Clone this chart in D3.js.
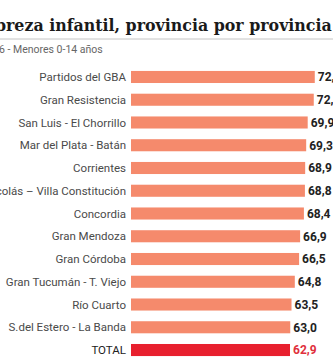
<!DOCTYPE html>
<head>
  <meta charset="utf-8">
  <title>Pobreza infantil</title>
  <style>
  body { margin: 0; background: #fff; }
  .label { font: 11.5px "Roboto", sans-serif; fill: #4a4a4a; text-anchor: end; }
  .valor { font: bold 12px "Roboto", sans-serif; fill: #222; }
  </style>
</head>

<svg id="vis1"></svg>

<script src="https://cdn.jsdelivr.net/npm/d3@7"></script>

<script>
"use strict";

var categorias = ["Partidos del GBA", "Gran Resistencia", "San Luis - El Chorrillo",
  "Mar del Plata - Batán", "Corrientes", "San Nicolás – Villa Constitución",
  "Concordia", "Gran Mendoza", "Gran Córdoba", "Gran Tucumán - T. Viejo",
  "Río Cuarto", "S.del Estero - La Banda", "TOTAL"];
var valores = [72.7, 72.3, 69.9, 69.3, 68.9, 68.8, 68.4, 66.9, 66.5, 64.8, 63.5, 63.0, 62.9];
var etiquetas = ["72,7", "72,3", "69,9", "69,3", "68,9", "68,8", "68,4", "66,9", "66,5", "64,8", "63,5", "63,0", "62,9"];

var totalWidth = 333,
    totalHeight = 360;

var svg = d3.select("#vis1")
    .attr("width", totalWidth)
    .attr("height", totalHeight);

// titulo: la imagen original esta recortada a la izquierda
var titulo = svg.append("text")
    .attr("y", 31)
    .attr("font-family", "DejaVu Serif")
    .attr("font-weight", "bold")
    .attr("font-size", 17)
    .attr("fill", "#1a1a1a");
titulo.append("tspan").attr("class", "oculto").text("Pob");
var resto = titulo.append("tspan").text("reza infantil, provincia por provincia");
// ajusta el tamaño para que el resto ocupe el ancho visible
var fs = 17 * 326 / resto.node().getComputedTextLength();
titulo.attr("font-size", fs);
titulo.attr("x", -titulo.select(".oculto").node().getComputedTextLength() + 6);

svg.append("line")
    .attr("x1", 0).attr("x2", totalWidth)
    .attr("y1", 39).attr("y2", 39)
    .attr("stroke", "#c4c4c4");

var sub = svg.append("text")
    .attr("y", 53)
    .attr("font-family", "Roboto")
    .attr("font-size", 10.5)
    .attr("fill", "#666");
sub.append("tspan").attr("class", "oculto").text("201");
sub.append("tspan").text("6 - Menores 0-14 años");
sub.attr("x", -sub.select(".oculto").node().getComputedTextLength() - 1);

var x = d3.scaleLinear()
    .domain([0, 62.9])
    .range([131, 290]);

var y = d3.scaleBand()
    .domain(categorias)
    .range([65.6, 361.4])
    .paddingInner(0.47)
    .paddingOuter(0.235);

var fila = svg.selectAll(".fila")
    .data(categorias)
  .enter().append("g")
    .attr("class", "fila");

fila.append("rect")
    .attr("x", x(0))
    .attr("y", function(d) { return y(d); })
    .attr("width", function(d, i) { return x(valores[i]) - x(0); })
    .attr("height", y.bandwidth())
    .attr("fill", function(d) { return d == "TOTAL" ? "#e8202e" : "#f58a6c"; });

fila.append("text")
    .attr("class", "label")
    .attr("x", x(0) - 5)
    .attr("y", function(d) { return y(d) + y.bandwidth() / 2; })
    .attr("dy", "0.35em")
    .attr("font-weight", function(d) { return d == "TOTAL" ? "bold" : null; })
    .style("fill", function(d) { return d == "TOTAL" ? "#222" : null; })
    .text(function(d) { return d; });

fila.append("text")
    .attr("class", "valor")
    .attr("x", function(d, i) { return x(valores[i]) + 3; })
    .attr("y", function(d) { return y(d) + y.bandwidth() / 2; })
    .attr("dy", "0.36em")
    .style("fill", function(d) { return d == "TOTAL" ? "#e0303c" : null; })
    .text(function(d, i) { return etiquetas[i]; });
</script>
